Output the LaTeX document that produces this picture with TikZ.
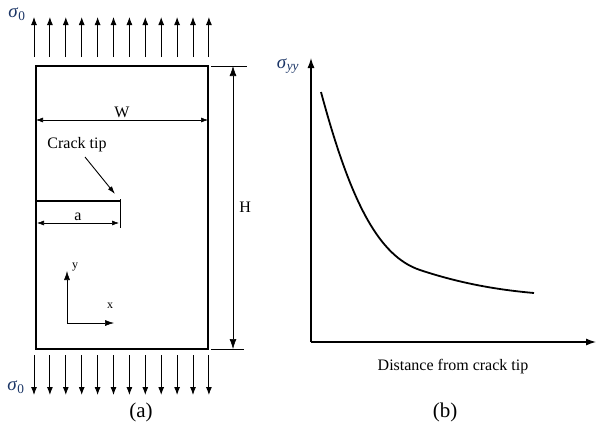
\documentclass[tikz,border=0pt]{standalone}
\usepackage{fontspec}
\setmainfont{Liberation Serif}
\usetikzlibrary{arrows.meta, positioning}
\definecolor{azulSigma}{HTML}{1B3566}

\begin{document}
\begin{tikzpicture}[x=1pt, y=-1pt, font=\fontsize{16}{19}\selectfont, >=Latex,
        plate/.style={draw, line width=2.4pt, minimum width=172pt, minimum height=283pt, inner sep=0pt},
        load/.style={-{Latex[length=8pt, width=6pt]}, line width=0.9pt},
        dim/.style={{Latex[length=7pt, width=5pt]}-{Latex[length=7pt, width=5pt]}, line width=0.6pt},
        dimH/.style={{Latex[length=10pt, width=7pt]}-{Latex[length=10pt, width=7pt]}, line width=0.6pt},
        thinline/.style={line width=0.6pt},
        axis/.style={-{Latex[length=10pt, width=7pt]}, line width=1.2pt},
        sig/.style={text=azulSigma, inner sep=0pt, font=\fontsize{19}{22}\selectfont},
        caption/.style={font=\fontsize{21}{24}\selectfont}]
        \useasboundingbox (0,0) rectangle (596,432);
        \node[plate] (plate) at (122,207.5) {};
        \foreach \i in {0,...,11} {
            \coordinate (top\i) at ({34+15.9*\i},57);
            \coordinate (bot\i) at ({34+15.9*\i},355);
            \draw[load] (top\i) -- ++(0,-40);
            \draw[load] (bot\i) -- ++(0,40);
        }
        \node[sig] (s0top) at (17,14) {\textit{σ}\textsubscript{0}};
        \node[sig] (s0bot) at (16,387) {\textit{σ}\textsubscript{0}};
        \coordinate (wL) at (36,120);
        \coordinate (wR) at (208,120);
        \draw[dim] (wL) -- node[above, inner sep=2pt] (wLabel) {W} (wR);
        \coordinate (hT) at (233,66);
        \coordinate (hB) at (233,349);
        \draw[thinline] (211,66) -- (247,66);
        \draw[thinline] (211,349) -- (244,349);
        \draw[dimH] (hT) -- node[right, inner sep=6pt] (hLabel) {H} (hB);
        \coordinate (crackMouth) at (36,201);
        \coordinate (crackTip) at (120,201);
        \draw[line width=1.5pt] (crackMouth) -- (crackTip);
        \draw[thinline] (120,199) -- (120,228);
        \coordinate (aL) at (37,223);
        \coordinate (aR) at (119,223);
        \draw[dim] (aL) -- node[above, inner sep=2pt] (aLabel) {a} (aR);
        \node (tipLabel) at (77,145) {Crack tip};
        \coordinate (tipFrom) at (85,157);
        \coordinate (tipTo) at (115,194);
        \draw[-{Latex[length=8pt, width=5pt]}, line width=0.9pt] (tipFrom) -- (tipTo);
        \coordinate (orig) at (67,323);
        \coordinate (yEnd) at (67,271);
        \coordinate (xEnd) at (114,323);
        \draw[-{Latex[length=9pt, width=6pt]}, thinline] (orig) -- (yEnd);
        \draw[-{Latex[length=9pt, width=6pt]}, thinline] (orig) -- (xEnd);
        \node[inner sep=0pt] (yLabel) at (75,267) {\fontsize{12}{14}\selectfont y};
        \node[inner sep=0pt] (xLabel) at (110,306) {\fontsize{12}{14}\selectfont x};
        \coordinate (gO) at (311,342);
        \coordinate (gY) at (311,58);
        \coordinate (gX) at (596,342);
        \draw[axis] (gO) -- (gY);
        \draw[axis] (gO) -- (gX);
        \node[sig] (syy) at (288,66) {\textit{σ}\textsubscript{\textit{yy}}};
        \draw[line width=1.8pt] (321,92) .. controls (350,200) and (378,256) .. (420,270)
            .. controls (462,284) and (500,290) .. (534,293);
        \node (xTitle) at (453,367) {Distance from crack tip};
        \node[caption] (capA) at (141,412) {(a)};
        \node[caption] (capB) at (445,412) {(b)};
    \end{tikzpicture}
\end{document}
